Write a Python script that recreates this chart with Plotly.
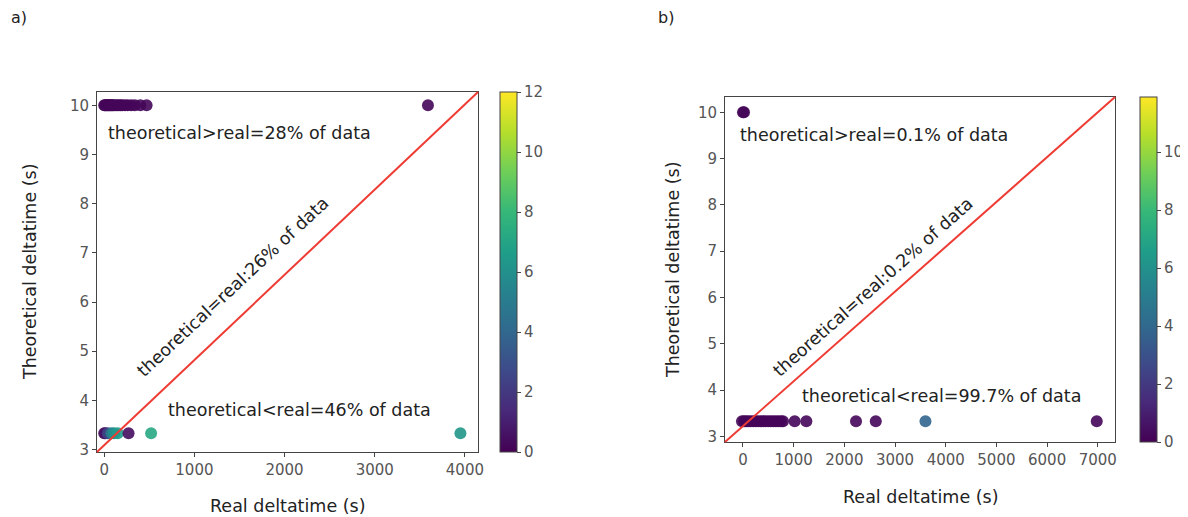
import plotly.graph_objects as go

# ---------------- data ----------------
# Panel a) : theoretical deltatime = 10 s
a_top_real = [0, 10, 20, 30, 40, 50, 60, 70, 80, 90, 100, 120, 140, 160, 180, 200,
              230, 260, 300, 340, 400, 470, 3590]
a_top_theo = [10.0] * len(a_top_real)
a_top_color = [0.2] * len(a_top_real)
# Panel a) : theoretical deltatime = 3.33 s
a_bot_real = [0, 15, 40, 80, 110, 150, 270, 520, 3950]
a_bot_theo = [3.33] * len(a_bot_real)
a_bot_color = [0.3, 0.5, 2.5, 5.0, 6.0, 6.5, 0.4, 7.2, 6.3]

# Panel b)
b_top_real = [0, 20]
b_top_theo = [10.0] * len(b_top_real)
b_top_color = [0.2, 0.2]
b_bot_real = [-20, 20, 60, 100, 150, 200, 250, 300, 350, 400, 450, 500, 550, 600, 650,
              700, 750, 790, 1020, 1250, 2230, 2620, 3600, 6980]
b_bot_theo = [3.33] * len(b_bot_real)
b_bot_color = [0.2] * 22 + [3.9, 0.2]

a_cmax = 12
b_cmax = 11.9

a_x_ticks = [0, 1000, 2000, 3000, 4000]
b_x_ticks = [0, 1000, 2000, 3000, 4000, 5000, 6000, 7000]
y_ticks = [3, 4, 5, 6, 7, 8, 9, 10]
a_cb_ticks = [0, 2, 4, 6, 8, 10, 12]
b_cb_ticks = [0, 2, 4, 6, 8, 10]

labels_a = ["theoretical>real=28% of data", "theoretical<real=46% of data",
            "theoretical=real:26% of data"]
labels_b = ["theoretical>real=0.1% of data", "theoretical<real=99.7% of data",
            "theoretical=real:0.2% of data"]

FONT = "DejaVu Sans"
TXT = "#222222"
TICK = "#555555"
TICKSIZE = 15
ANNSIZE = 17.5

# page has an 8px body margin: the figure is sized to fit the window
OFF = 8
W, H = 1188 - OFF, 517 - OFF


def px(x):
    return (x - OFF) / W


def py(y):
    return 1 - (y - OFF) / H


fig = go.Figure()


def add_scatter(xs, ys, cs, xa, ya, cmax, cb):
    fig.add_trace(go.Scatter(
        x=xs, y=ys, mode="markers", xaxis=xa, yaxis=ya, showlegend=False,
        marker=dict(size=12, color=cs, colorscale="Viridis", cmin=0, cmax=cmax,
                    opacity=0.9, line=dict(width=0),
                    showscale=cb is not None, colorbar=cb),
    ))


def colorbar(x_left, y_top, y_bot, ticks):
    return dict(x=px(x_left), xanchor="left", y=py(y_bot), yanchor="bottom",
                len=(y_bot - y_top) / H, lenmode="fraction", thickness=17,
                outlinewidth=1, xpad=0, ypad=0, outlinecolor="#444",
                tickvals=ticks, ticks="outside", ticklen=4, tickcolor="#444",
                tickfont=dict(family=FONT, size=TICKSIZE, color=TICK))


cb_a = colorbar(500, 92, 452, a_cb_ticks)
cb_b = colorbar(1140, 97, 442, b_cb_ticks)

add_scatter(a_top_real, a_top_theo, a_top_color, "x", "y", a_cmax, cb_a)
add_scatter(a_bot_real, a_bot_theo, a_bot_color, "x", "y", a_cmax, None)
add_scatter(b_top_real, b_top_theo, b_top_color, "x2", "y2", b_cmax, cb_b)
add_scatter(b_bot_real, b_bot_theo, b_bot_color, "x2", "y2", b_cmax, None)

axis_common = dict(showgrid=False, zeroline=False, showline=True, linecolor="#444",
                   linewidth=1, mirror=True, ticks="outside", ticklen=4,
                   tickcolor="#444", automargin=False,
                   tickfont=dict(family=FONT, size=TICKSIZE, color=TICK))

fig.update_layout(
    width=W, height=H, margin=dict(l=0, r=0, t=0, b=0),
    paper_bgcolor="white", plot_bgcolor="white",
    xaxis=dict(domain=[px(97), px(478)], range=[-80, 4145],
               tickvals=a_x_ticks, anchor="y", **axis_common),
    yaxis=dict(domain=[py(452), py(92)], range=[2.95, 10.27],
               tickvals=y_ticks, anchor="x", **axis_common),
    xaxis2=dict(domain=[px(725), px(1115)], range=[-355, 7340],
                tickvals=b_x_ticks, anchor="y2", **axis_common),
    yaxis2=dict(domain=[py(442), py(97)], range=[2.88, 10.33],
                tickvals=y_ticks, anchor="x2", **axis_common),
)

# diagonal reference lines (corner to corner)
for xr, yr in [("x domain", "y domain"), ("x2 domain", "y2 domain")]:
    fig.add_shape(type="line", xref=xr, yref=yr, x0=0, y0=0, x1=1, y1=1,
                  line=dict(color="#ee3b33", width=2))


def ann(text, x, y, xref, yref, xanchor="left", angle=0, size=ANNSIZE):
    fig.add_annotation(text=text, x=x, y=y, xref=xref, yref=yref, showarrow=False,
                       xanchor=xanchor, yanchor="middle", textangle=angle,
                       font=dict(family=FONT, size=size, color=TXT))


ann(labels_a[0], 0.024, 0.886, "x domain", "y domain")
ann(labels_a[1], 0.181, 0.117, "x domain", "y domain")
ann(labels_a[2], 0.356, 0.458, "x domain", "y domain", xanchor="center", angle=-43)
ann(labels_b[0], 0.033, 0.89, "x2 domain", "y2 domain")
ann(labels_b[1], 0.192, 0.133, "x2 domain", "y2 domain")
ann(labels_b[2], 0.379, 0.45, "x2 domain", "y2 domain", xanchor="center", angle=-41.5)

# axis titles
ann("Real deltatime (s)", px(287), py(506), "paper", "paper", xanchor="center")
ann("Real deltatime (s)", px(920), py(497), "paper", "paper", xanchor="center")
ann("Theoretical deltatime (s)", px(30), py(272), "paper", "paper",
    xanchor="center", angle=-90)
ann("Theoretical deltatime (s)", px(673), py(270), "paper", "paper",
    xanchor="center", angle=-90)
# panel labels
ann("a)", px(9), py(18), "paper", "paper", size=16)
ann("b)", px(656), py(18), "paper", "paper", size=16)

fig.write_html("out.html")
